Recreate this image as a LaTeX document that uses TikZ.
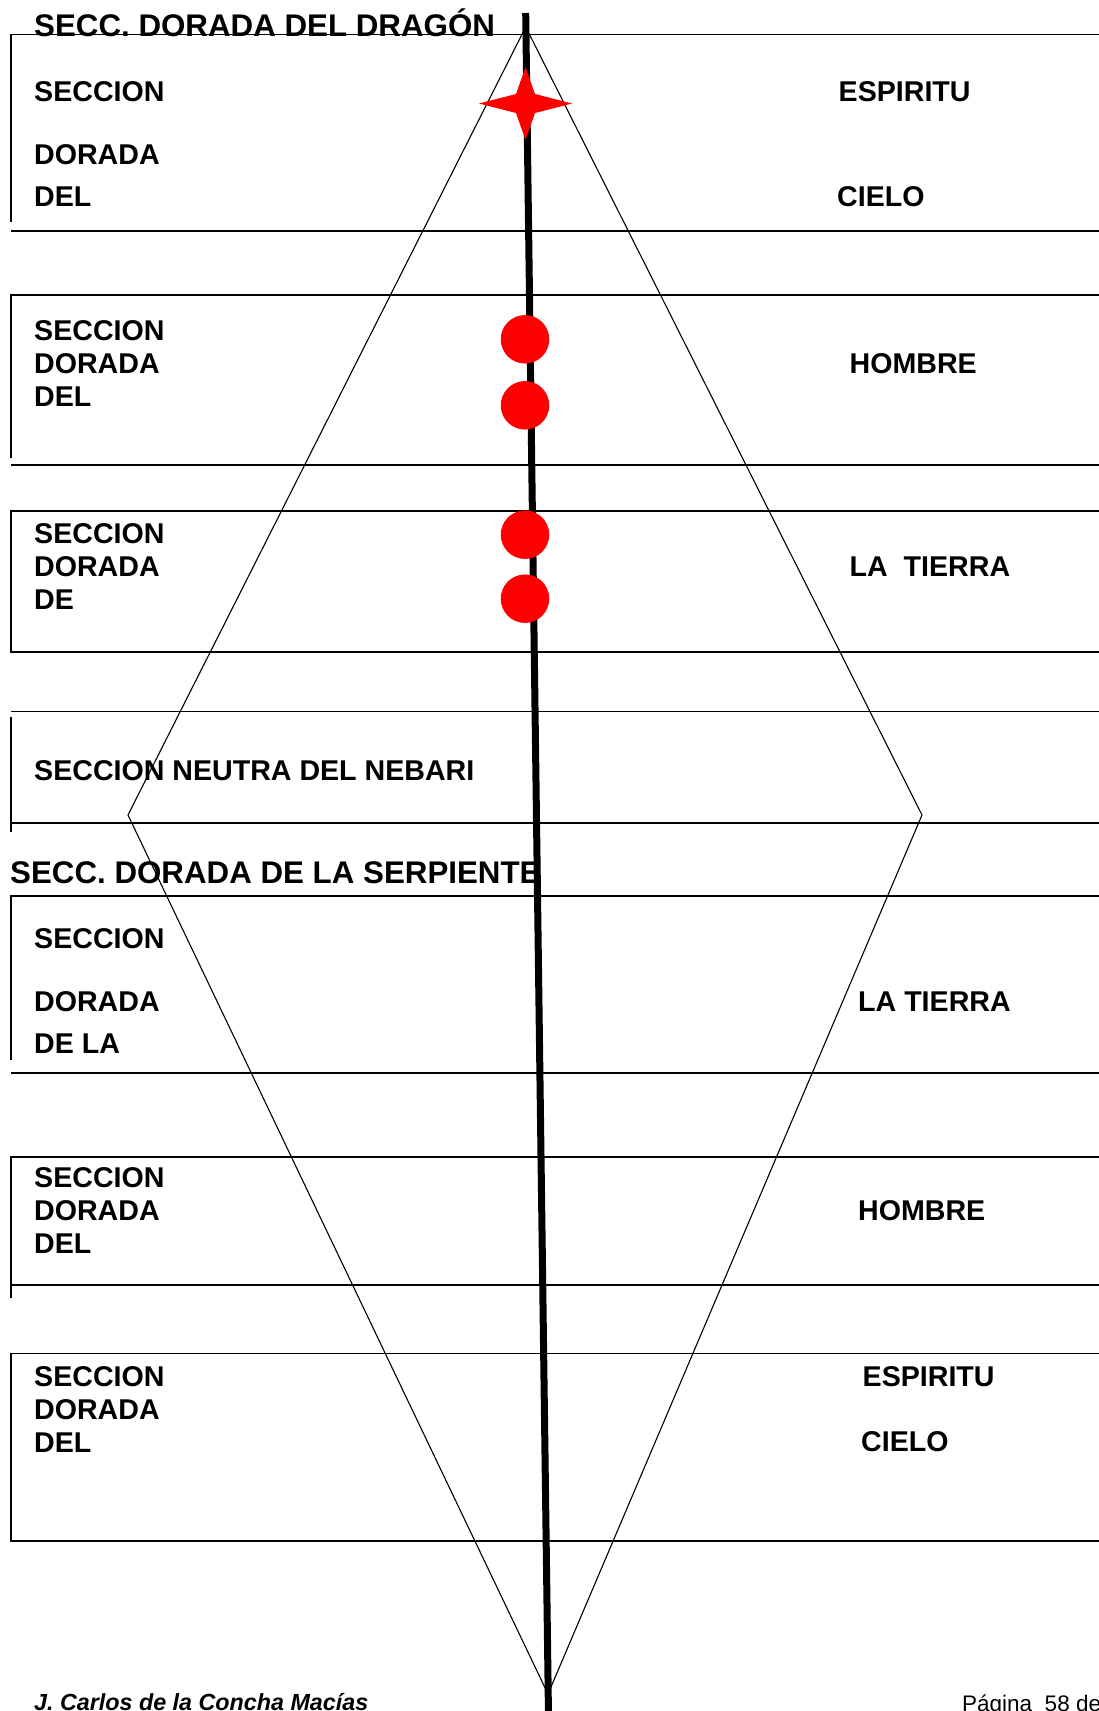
\documentclass[tikz,border=0pt]{standalone}
\usepackage{fontspec}
\setmainfont{Liberation Sans}
\tikzset{
	linea/.style = {line width=1.9pt},
	rombo/.style = {line width=1.1pt},
	eje/.style = {line width=7pt},
	punto/.style = {
		shape=circle,
		fill=red,
		inner sep=0pt,
		minimum size=48.5pt
	},
	lbl/.style = {
		anchor=west,
		inner sep=0pt,
		align=left,
		font=\bfseries\fontsize{28.6}{33}\selectfont
	},
	titulo/.style = {
		anchor=base west,
		inner sep=0pt,
		font=\bfseries\fontsize{31.3}{36}\selectfont
	},
	pie/.style = {
		anchor=base west,
		inner sep=0pt,
		font=\fontsize{22.5}{26}\selectfont
	}
}

\begin{document}
\begin{tikzpicture}[x=1pt, y=-1pt]
		\useasboundingbox (0,0) rectangle (1098,1711);

		% cajas
		\draw[linea] (1110,34.5) -- (11,34.5) -- (11,222);
		\draw[linea] (11,231) -- (1110,231);
		\draw[linea] (1110,295) -- (11,295) -- (11,458);
		\draw[linea] (11,465) -- (1110,465);
		\draw[linea] (1110,511) -- (11,511) -- (11,652) -- (1110,652);
		\draw[linea] (11,711.5) -- (1110,711.5);
		\draw[linea] (11,717) -- (11,832);
		\draw[linea] (11,823) -- (1110,823);
		\draw[linea] (1110,896) -- (11,896) -- (11,1060);
		\draw[linea] (11,1073) -- (1110,1073);
		\draw[linea] (1110,1157) -- (11,1157) -- (11,1298);
		\draw[linea] (11,1285) -- (1110,1285);
		\draw[linea] (1110,1353.5) -- (11,1353.5) -- (11,1541) -- (1110,1541);

		% textos
		\node[titulo] (dragon) at (34,36) {SECC. DORADA DEL DRAGÓN};
		\node[lbl] (c1a) at (34,91.7) {SECCION};
		\node[lbl] (c1b) at (34,155) {DORADA};
		\node[lbl] (c1c) at (34,196.5) {DEL};
		\node[lbl] (espiritu1) at (838.5,91.7) {ESPIRITU};
		\node[lbl] (cielo1) at (837,196.5) {CIELO};

		\node[lbl] (c2) at (34,363.5) {SECCION\\DORADA\\DEL};
		\node[lbl] (hombre1) at (849.5,363.5) {HOMBRE};

		\node[lbl] (c3) at (34,566.5) {SECCION\\DORADA\\DE};
		\node[lbl] (tierra1) at (849.5,566.5) {LA~~TIERRA};

		\node[lbl] (neutra) at (34,770.6) {SECCION NEUTRA DEL NEBARI};

		\node[titulo] (serpiente) at (10,883) {SECC. DORADA DE LA SERPIENTE};
		\node[lbl] (c5a) at (34,938.7) {SECCION};
		\node[lbl] (c5b) at (34,1002) {DORADA};
		\node[lbl] (c5c) at (34,1043.5) {DE LA};
		\node[lbl] (tierra2) at (858,1002) {LA TIERRA};

		\node[lbl] (c6) at (34,1210.5) {SECCION\\DORADA\\DEL};
		\node[lbl] (hombre2) at (858,1210.5) {HOMBRE};

		\node[lbl] (c7) at (34,1409) {SECCION\\DORADA\\DEL};
		\node[lbl] (espiritu2) at (862.5,1376.4) {ESPIRITU};
		\node[lbl] (cielo2) at (861,1441.9) {CIELO};

		\node[pie, font=\bfseries\itshape\fontsize{23.3}{26}\selectfont] (autor) at (34,1710.5) {J. Carlos de la Concha Macías};
		\node[pie] (pagina) at (962,1711.5) {Página~~58 de};

		% rombo y eje
		\coordinate (sup) at (525.7,27);
		\coordinate (izq) at (128,815);
		\coordinate (inf) at (548,1694);
		\coordinate (der) at (922,815);
		\draw[rombo] (sup) -- (izq) -- (inf) -- (der) -- cycle;

		\coordinate (ejeA) at (525.7,13);
		\coordinate (ejeB) at (548.5,1716);
		\draw[eje] (ejeA) -- (ejeB);

		\node[punto] (p1) at (525,339.3) {};
		\node[punto] (p2) at (525,405.3) {};
		\node[punto] (p3) at (525,534.7) {};
		\node[punto] (p4) at (525,598.7) {};

		% estrella
		\fill[red] (525.5,67) -- (535,94) -- (572,103.5) -- (535,113) -- (525.5,140)
			-- (516,113) -- (479,103.5) -- (516,94) -- cycle;
		\end{tikzpicture}
\end{document}
